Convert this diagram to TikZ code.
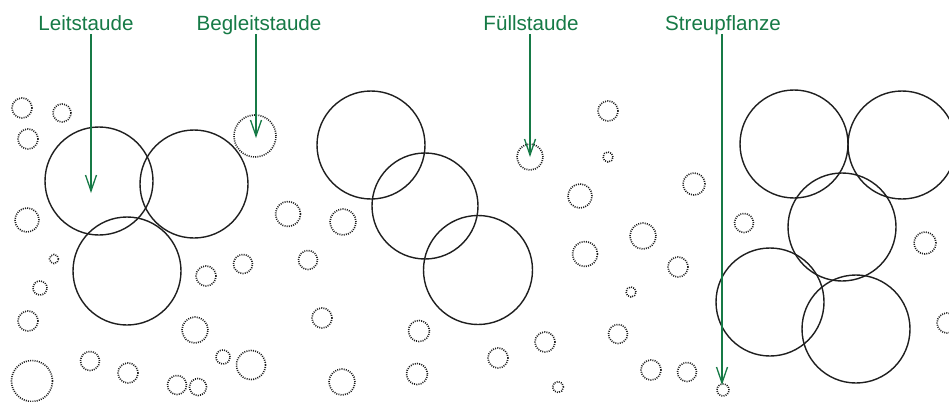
\documentclass[tikz,border=0pt]{standalone}
\usepackage{fontspec}
\setmainfont{Liberation Sans}
\usetikzlibrary{arrows.meta}
\definecolor{lblgreen}{RGB}{22,122,70}
\definecolor{inkgray}{RGB}{30,30,30}
\tikzset{
  big/.style={draw=inkgray,line width=1.4pt},
  small/.style={draw=inkgray,line width=1.6pt,dash pattern=on 1pt off 1.2pt},
  lbl/.style={text=lblgreen,font=\fontsize{20.6pt}{24pt}\selectfont,anchor=base,inner sep=0pt},
  arr/.style={draw=lblgreen,line width=1.4pt,-{Straight Barb[length=16pt,width=11pt,line width=1.3pt]}}
}
\newcommand{\sm}[4]{\draw[small] (#1,#2) circle[radius=#3pt] coordinate (#4);}
\begin{document}
\begin{tikzpicture}[x=1pt,y=-1pt]
\useasboundingbox[fill=white] (0,0) rectangle (949,401);
% big circles
\draw[big] (99,181) circle[radius=54pt];
\draw[big] (194,184) circle[radius=54pt];
\draw[big] (127,271) circle[radius=54pt];
\draw[big] (371,145) circle[radius=54pt];
\draw[big] (425,206) circle[radius=53pt];
\draw[big] (478,270) circle[radius=54.5pt];
\draw[big] (794,144) circle[radius=54pt];
\draw[big] (902,145) circle[radius=54pt];
\draw[big] (842,227) circle[radius=54pt];
\draw[big] (770,302) circle[radius=54pt];
\draw[big] (856,329) circle[radius=54pt];
% small dotted circles
\sm{22}{108}{10}{s1}
\sm{62}{113}{9}{s2}
\sm{28}{139}{10}{s3}
\sm{255}{136}{21}{s4}
\sm{27}{220}{12}{s5}
\sm{54}{259}{4.5}{s6}
\sm{40}{288}{7}{s7}
\sm{28}{321}{10}{s8}
\sm{32}{381}{20.5}{s9}
\sm{90}{361}{9.5}{s10}
\sm{128}{373}{10}{s11}
\sm{177}{385}{9.5}{s12}
\sm{198}{387}{8.5}{s13}
\sm{223}{357}{7}{s14}
\sm{251}{365}{14.5}{s15}
\sm{195}{330}{13}{s16}
\sm{206}{276}{10}{s17}
\sm{243}{264}{9.5}{s18}
\sm{288}{214}{12.5}{s19}
\sm{308}{260}{9.5}{s20}
\sm{322}{318}{10}{s21}
\sm{343}{222}{13}{s22}
\sm{342}{382}{13}{s23}
\sm{419}{331}{10.5}{s24}
\sm{417}{374}{10.5}{s25}
\sm{498}{358}{10}{s26}
\sm{545}{342}{10}{s27}
\sm{558}{387}{5.5}{s28}
\sm{530}{157}{13}{s29}
\sm{608}{111}{10}{s30}
\sm{608}{157}{5}{s31}
\sm{580}{196}{12}{s32}
\sm{585}{254}{12.5}{s33}
\sm{618}{334}{9.5}{s34}
\sm{631}{292}{5}{s35}
\sm{643}{236}{13}{s36}
\sm{678}{267}{10}{s37}
\sm{694}{184}{11}{s38}
\sm{744}{223}{9.5}{s39}
\sm{925}{243}{11}{s40}
\sm{947}{323}{10}{s41}
\sm{651}{370}{10}{s42}
\sm{687}{372}{9.5}{s43}
\sm{723}{390}{6}{s44}
% labels
\node[lbl] (leit) at (86,30.5) {Leitstaude};
\node[lbl] (begl) at (259,30.5) {Begleitstaude};
\node[lbl] (fuell) at (531,30.5) {Füllstaude};
\node[lbl] (streu) at (723,30.5) {Streupflanze};
% arrow coordinates
\coordinate (leitA) at (91,34);
\coordinate (leitB) at (91,193);
\coordinate (beglA) at (256,34);
\coordinate (beglB) at (256,138);
\coordinate (fuellA) at (530,34);
\coordinate (fuellB) at (530,157);
\coordinate (streuA) at (722,34);
\coordinate (streuB) at (722,385);
\draw[arr] (leitA) -- (leitB);
\draw[arr] (beglA) -- (beglB);
\draw[arr] (fuellA) -- (fuellB);
\draw[arr] (streuA) -- (streuB);
\end{tikzpicture}
\end{document}
